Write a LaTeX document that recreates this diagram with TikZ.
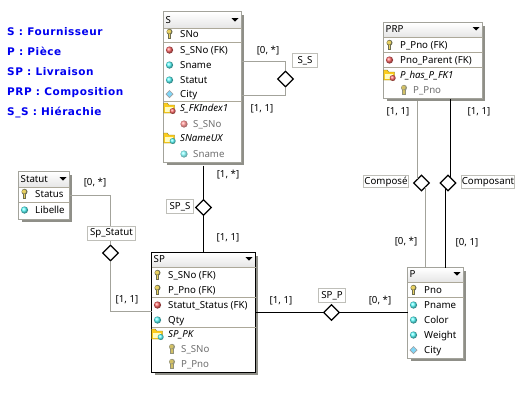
\documentclass[tikz,border=0pt]{standalone}
\usepackage{fontspec}
\setmainfont{Noto Sans}
\newfontfamily\legendfont{DejaVu Sans}[LetterSpace=5]
\usetikzlibrary{shapes.geometric,calc}
\definecolor{gline}{HTML}{A3A39B}
\definecolor{seprule}{HTML}{ACA899}
\definecolor{shadowc}{HTML}{8F8F88}
\definecolor{legendblue}{HTML}{0000F0}
\definecolor{fadetext}{HTML}{707070}
\definecolor{keygold}{HTML}{E8D060}
\definecolor{keydark}{HTML}{6E6E50}
\newcounter{rc}
\tikzset{
  x=1pt,y=-1pt,
  tbox/.style={rectangle,draw=gline,line width=1pt,fill=white,inner sep=0pt,outer sep=0pt},
  rowtxt/.style={anchor=base west,inner sep=0pt,font=\fontsize{9.7}{12}\selectfont,text=black},
  fadetxt/.style={rowtxt,text=fadetext},
  idxtxt/.style={rowtxt,font=\fontsize{9.7}{12}\selectfont\itshape},
  mult/.style={inner sep=0pt,font=\fontsize{9.7}{12}\selectfont},
  rolebox/.style={rectangle,draw=gline!70,line width=1pt,fill=white,inner sep=0pt,minimum height=14pt,font=\fontsize{9.7}{12}\selectfont},
  rel/.style={diamond,draw=black,line width=1.2pt,fill=white,inner sep=0pt,minimum width=16pt,minimum height=16pt,aspect=1},
  gconn/.style={draw=gline,line width=1pt},
  kconn/.style={draw=black,line width=1pt},
  sepline/.style={draw=seprule,line width=1pt},
  legend/.style={anchor=base west,inner sep=0pt,text=legendblue,font=\fontsize{10.5}{12}\legendfont\bfseries},
  keyicon/.pic={
    \fill[keydark] (0,-2.2) circle (3);
    \fill[keygold] (-.4,-2.4) circle (2);
    \fill[keydark] (-1.6,0) rectangle (1.8,4.6);
    \fill[keygold] (-.9,0) rectangle (.5,3.8);
  },
  redball/.pic={\shade[ball color=red!60!white] (0,0) circle (3.6);},
  cyanball/.pic={\shade[ball color=cyan!65!white] (0,0) circle (3.6);},
  cyandiam/.pic={\fill[gray!75] (-4,0)--(0,-4)--(4,0)--(0,4)--cycle;
    \fill[cyan!50!white] (-2.8,0)--(0,-2.8)--(2.8,0)--(0,2.8)--cycle;},
  folderbase/.pic={
    \fill[yellow!60!orange!90!white,draw=olive!80!black,line width=.4pt] (-6,-5)--(-2,-5)--(-1,-3)--(5,-3)--(5,5)--(-6,5)--cycle;
    \fill[yellow!25] (-5,-1) rectangle (3,4);
  },
  folderred/.pic={\pic{folderbase};\shade[ball color=red!60!white] (3.2,3) circle (3);},
  foldercyan/.pic={\pic{folderbase};\shade[ball color=cyan!65!white] (3.2,3) circle (3);},
}
% table frame: name, centre, width, height, header bottom y, title, border colour
\newcommand{\tbl}[8]{%
  \fill[shadowc] ($(#2,#3)+(-#4/2+3,-#5/2+3)$) rectangle ($(#2,#3)+(#4/2+2.5,#5/2+2.5)$);
  \node[tbox,draw=#8,minimum width=#4 pt,minimum height=#5 pt] (#1) at (#2,#3) {};
  \shade[top color=white,bottom color=black!10] ([shift={(.6pt,-.6pt)}]#1.north west) rectangle ([xshift=-.6pt]#1.east |- 0,#6);
  \draw[sepline] (#1.west |- 0,#6.5) -- (#1.east |- 0,#6.5);
  \node[rowtxt,anchor=base west] (#1title) at ([xshift=2pt]#1.west |- 0,#6) [yshift=4.5pt] {#7};
  \fill[black] ([xshift=-10pt,yshift=10pt]#1.east |- 0,#6) -- ++(7,0) -- ++(-3.5,3.5) -- cycle;
}
\newcommand{\rw}[5][rowtxt]{% style, left x, y, icon, text
  \stepcounter{rc}%
  \pic at (#2+6.5,#3) {#4};
  \node[#1] (t\arabic{rc}) at (#2+17,#3+3.5) {#5};
}
\newcommand{\rwi}[4]{% indexed child, faded
  \stepcounter{rc}%
  \begin{scope}[opacity=.75]\pic at (#1+21,#2) {#3};\end{scope}
  \node[fadetxt] (t\arabic{rc}) at (#1+30,#2+3.5) {#4};
}
\newcommand{\ri}[4]{% index folder row
  \stepcounter{rc}%
  \pic at (#1+6.5,#2) {#3};
  \node[idxtxt] (t\arabic{rc}) at (#1+17,#2+3.5) {#4};
}
\newcommand{\hsep}[2]{\draw[sepline] (#1.west |- 0,#2.5) -- (#1.east |- 0,#2.5);}
\begin{document}
\begin{tikzpicture}[x=1pt,y=-1pt]
\useasboundingbox (0,0) rectangle (524,400);
\fill[white] (0,0) rectangle (524,400);
% legend
\node[legend] (lg1) at (7,35) {S : Fournisseur};
\node[legend] (lg2) at (7,55) {P : Pièce};
\node[legend] (lg3) at (7,75) {SP : Livraison};
\node[legend] (lg4) at (7,95) {PRP : Composition};
\node[legend] (lg5) at (7,115) {S\_S : Hiérachie};
% relationship diamonds
\node[rel] (dss) at (285.5,79) {};
\node[rel] (dsps) at (203.5,207.5) {};
\node[rel] (dspp) at (331.5,312.5) {};
\node[rel] (dst) at (110.5,253) {};
\node[rel] (dco) at (421.5,183) {};
\node[rel] (dca) at (448,183) {};
% table S
\tbl{s}{202.5}{87}{78}{151}{28}{S}{gline}
\rw{163}{34}{keyicon}{SNo}
\hsep{s}{42}
\rw{163}{50}{redball}{S\_SNo (FK)}
\rw{163}{65}{cyanball}{Sname}
\rw{163}{80}{cyanball}{Statut}
\rw{163}{94}{cyandiam}{City}
\hsep{s}{101}
\ri{163}{108}{folderred}{S\_FKIndex1}
\rwi{163}{124}{redball}{S\_SNo}
\ri{163}{138}{foldercyan}{SNameUX}
\rwi{163}{154}{cyanball}{Sname}
% table PRP
\tbl{prp}{433}{60.5}{99}{76}{37}{PRP}{gline}
\rw{383}{45}{keyicon}{P\_Pno (FK)}
\hsep{prp}{52}
\rw{383}{60}{redball}{Pno\_Parent (FK)}
\hsep{prp}{67}
\ri{383}{75}{folderred}{P\_has\_P\_FK1}
\rwi{383}{90}{keyicon}{P\_Pno}
% table Statut
\tbl{statut}{44}{195.5}{51}{48}{187}{Statut}{gline}
\rw{18}{194}{keyicon}{Status}
\hsep{statut}{202}
\rw{18}{210}{cyanball}{Libelle}
% table SP
\tbl{sp}{203.5}{312.5}{104}{120}{267}{SP}{black}
\rw{151}{275}{keyicon}{S\_SNo (FK)}
\rw{151}{290}{keyicon}{P\_Pno (FK)}
\hsep{sp}{297}
\rw{151}{305}{redball}{Statut\_Status (FK)}
\rw{151}{320}{cyanball}{Qty}
\hsep{sp}{327}
\ri{151}{334}{foldercyan}{SP\_PK}
\rwi{151}{349}{keyicon}{S\_SNo}
\rwi{151}{364}{keyicon}{P\_Pno}
% table P
\tbl{p}{435.5}{313}{56}{91}{282}{P}{gline}
\rw{407}{290}{keyicon}{Pno}
\hsep{p}{297}
\rw{407}{305}{cyanball}{Pname}
\rw{407}{320}{cyanball}{Color}
\rw{407}{335}{cyanball}{Weight}
\rw{407}{350}{cyandiam}{City}
% connectors
\draw[gconn] (s.east |- 0,61.5) -- ++(2,0) -| (dss.north);
\draw[gconn] (dss.south) |- (s.east |- 0,95.5);
\draw[kconn] (dsps.north |- 0,165.5) -- (dsps.north);
\draw[kconn] (dsps.south) -- (dsps.south |- sp.north);
\draw[kconn] (sp.east |- dspp.west) -- (dspp.west);
\draw[kconn] (dspp.east) -- (p.west |- dspp.east);
\draw[gconn] (statut.east |- 0,195.5) -- ++(3,0) -| (dst.north);
\draw[gconn] (dst.south) |- (sp.west |- 0,311.5);
\draw[gconn] (dco.north west |- 0,101) -- (dco.north west);
\draw[gconn] (dco.south east) -- (dco.south east |- p.north);
\draw[kconn] ([xshift=2.5pt,yshift=5.5pt]dca.center |- 0,183) -- ([xshift=2.5pt]dca.center |- prp.south);
\draw[kconn] ([xshift=-2.5pt,yshift=-5.5pt]dca.center) -- ([xshift=-2.5pt]dca.center |- p.north);
% role labels
\node[rolebox,minimum width=25pt] (lss) at (305,60.5) {S\_S};
\node[rolebox,minimum width=27pt] (lsps) at (180,206.5) {SP\_S};
\node[rolebox,minimum width=27pt] (lspp) at (332,295.5) {SP\_P};
\node[rolebox,minimum width=48pt] (lst) at (111.5,233.5) {Sp\_Statut};
\node[rolebox,minimum width=45pt,minimum height=12pt] (lco) at (386,181.5) {Composé};
\node[rolebox,minimum width=49pt,minimum height=13pt] (lca) at (488,182) {Composant};
% multiplicities
\node[mult] (m1) at (268,51) {[0, *]};
\node[mult] (m2) at (262,109) {[1, 1]};
\node[mult] (m3) at (228,175) {[1, *]};
\node[mult] (m4) at (228,238) {[1, 1]};
\node[mult] (m5) at (95,183) {[0, *]};
\node[mult] (m6) at (127,300) {[1, 1]};
\node[mult] (m7) at (281,301) {[1, 1]};
\node[mult] (m8) at (380,301) {[0, *]};
\node[mult] (m9) at (406,242) {[0, *]};
\node[mult] (m10) at (467,243) {[0, 1]};
\node[mult] (m11) at (398,112) {[1, 1]};
\node[mult] (m12) at (479,112) {[1, 1]};
\end{tikzpicture}
\end{document}
